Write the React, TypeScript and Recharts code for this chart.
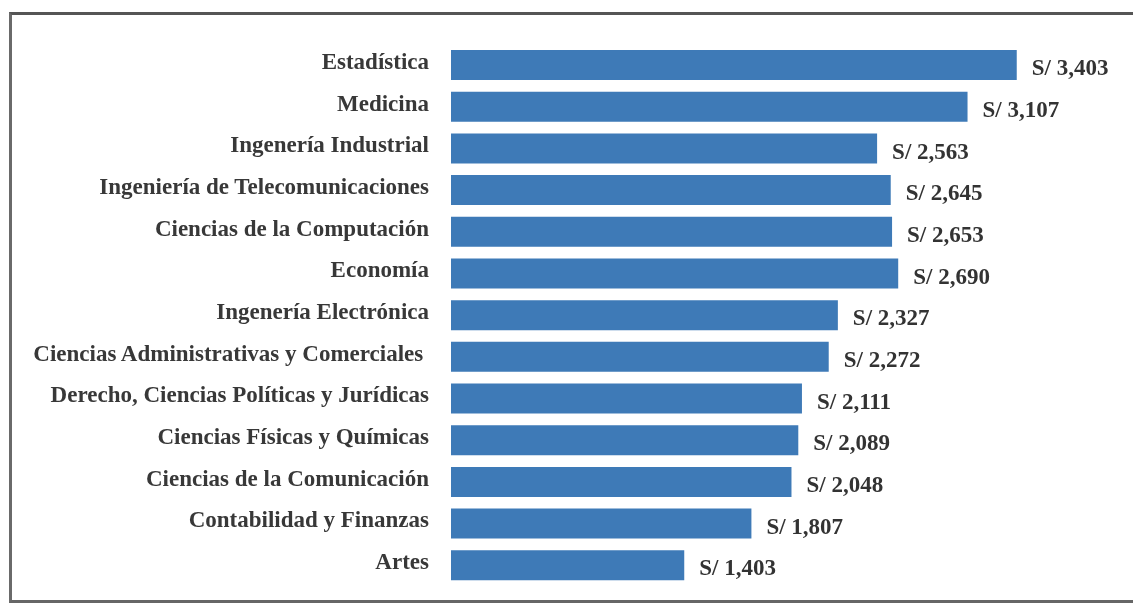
import { BarChart, Bar, XAxis, YAxis, LabelList } from 'recharts';

const careers = [
  'Estadística',
  'Medicina',
  'Ingenería Industrial',
  'Ingeniería de Telecomunicaciones',
  'Ciencias de la Computación',
  'Economía',
  'Ingenería Electrónica',
  'Ciencias Administrativas y Comerciales ',
  'Derecho, Ciencias Políticas y Jurídicas',
  'Ciencias Físicas y Químicas',
  'Ciencias de la Comunicación',
  'Contabilidad y Finanzas',
  'Artes',
];

const salaries = [3403, 3107, 2563, 2645, 2653, 2690, 2327, 2272, 2111, 2089, 2048, 1807, 1403];

const data = careers.map((name, i) => ({ name, value: salaries[i] }));

const font = '"Liberation Serif", "Times New Roman", serif';

const CareerTick = ({ x, y, payload }: any) => (
  <text
    x={x}
    y={y}
    dy={4}
    textAnchor="end"
    fill="#383838"
    fontFamily={font}
    fontWeight="bold"
    fontSize={23}
    style={{ whiteSpace: 'pre' }}
  >
    {payload.value}
  </text>
);

const fmt = (v: any) => `S/ ${Number(v).toLocaleString('en-US')}`;

export default function App() {
  return (
    <div style={{ position: 'relative', width: 1117, height: 595 }}>
      <div
        style={{
          position: 'fixed',
          left: 9,
          top: 12,
          width: 1300,
          height: 591,
          borderLeft: '3px solid #6a6a6a',
          borderTop: '3px solid #555',
          borderBottom: '3px solid #666',
          boxSizing: 'border-box',
        }}
      />
      <BarChart
        width={1117}
        height={595}
        data={data}
        layout="vertical"
        margin={{ top: 36, right: 9, bottom: 17, left: 0 }}
        style={{ position: 'absolute', left: 0, top: 0 }}
      >
        <XAxis type="number" domain={[0, 4000]} hide />
        <YAxis
          type="category"
          dataKey="name"
          width={443}
          axisLine={false}
          tickLine={false}
          tickSize={0}
          tickMargin={22}
          interval={0}
          tick={<CareerTick />}
        />
        <Bar dataKey="value" fill="#3e7ab7" barSize={30} isAnimationActive={false}>
          <LabelList
            dataKey="value"
            position="right"
            offset={15}
            formatter={fmt}
            fill="#333"
            fontFamily={font}
            fontWeight="bold"
            fontSize={23}
            dy={2}
          />
        </Bar>
      </BarChart>
    </div>
  );
}
